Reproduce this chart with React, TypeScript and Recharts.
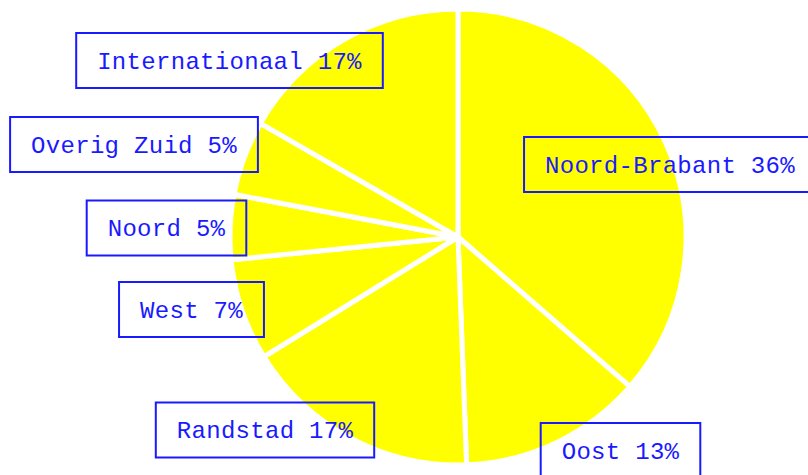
import React from "react";
import { PieChart, Pie, Cell } from "recharts";

const REGIONS = ["Noord-Brabant", "Oost", "Randstad", "West", "Noord", "Overig Zuid", "Internationaal"];
const SHARES = [36.4, 13.0, 16.8, 7.2, 4.6, 5.3, 16.7];

// label box centre offsets relative to pie centre (layout only)
const LABEL_OFFSETS = [
  { dx: 212, dy: -72.5 },
  { dx: 162.5, dy: 213.5 },
  { dx: -193, dy: 193 },
  { dx: -266.5, dy: 72.5 },
  { dx: -291.5, dy: -9 },
  { dx: -324, dy: -92.5 },
  { dx: -228.5, dy: -176.5 },
];

const BLUE = "#1a1aff";
const YELLOW = "#ffff00";
const CHAR_W = 14.7;
const FONT = "'Liberation Mono', 'DejaVu Sans Mono', monospace";

const data = REGIONS.map((name, i) => ({ name, value: SHARES[i] }));

function renderLabel(props: any) {
  const { cx, cy, index } = props;
  const name = props.name ?? props.payload?.name;
  const value = props.value ?? props.payload?.value;
  const off = LABEL_OFFSETS[index];
  const text = `${name} ${Math.round(value)}%`;
  const w = text.length * CHAR_W + 42;
  const h = 55;
  const x0 = cx + off.dx;
  const y0 = cy + off.dy;
  return (
    <g key={`lbl-${index}`}>
      <rect x={x0 - w / 2} y={y0 - h / 2} width={w} height={h} fill="none" stroke={BLUE} strokeWidth={2} />
      <text
        x={x0}
        y={y0 + 8}
        textAnchor="middle"
        fill={BLUE}
        fontFamily={FONT}
        fontSize={24}
        letterSpacing={0.3}
      >
        {text}
      </text>
    </g>
  );
}

export default function App() {
  return (
    <div style={{ position: "absolute", left: 0, top: 0, width: 808, height: 475, background: "#fff" }}>
      <PieChart width={808} height={475} margin={{ top: 0, right: 0, bottom: 0, left: 0 }}>
        <Pie
          data={data}
          dataKey="value"
          nameKey="name"
          cx={458}
          cy={237}
          outerRadius={228}
          innerRadius={0}
          startAngle={90}
          endAngle={-270}
          stroke="#ffffff"
          strokeWidth={5}
          label={renderLabel}
          labelLine={false}
          isAnimationActive={false}
        >
          {data.map((d) => (
            <Cell key={d.name} fill={YELLOW} stroke="#ffffff" strokeWidth={5} />
          ))}
        </Pie>
      </PieChart>
    </div>
  );
}
